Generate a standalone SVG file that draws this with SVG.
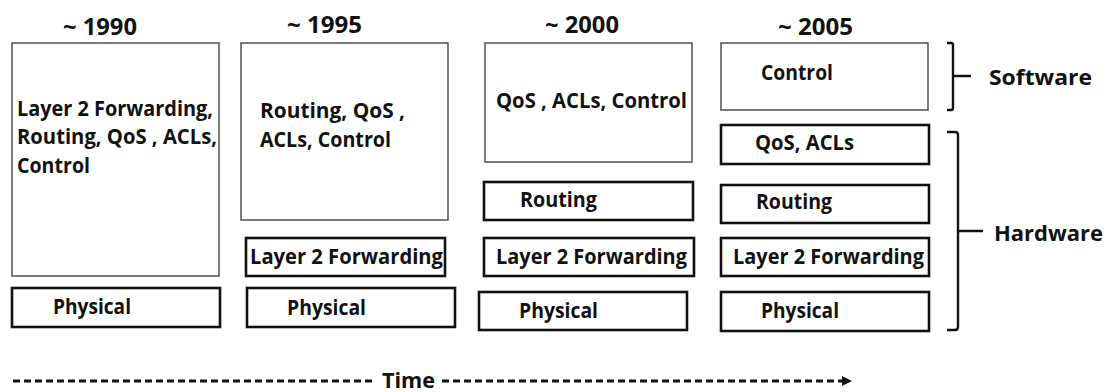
<svg xmlns="http://www.w3.org/2000/svg" width="1109" height="392" viewBox="0 0 1109 392">
  <style>
    text { font-family: "Open Sans", "Noto Sans", "Liberation Sans", sans-serif; font-weight: bold; fill: #111; }
    .year { font-size: 23px; }
    .lbl { font-size: 21px; }
    .soft { fill: #fff; stroke: #444; stroke-width: 1.4; }
    .hard { fill: #fff; stroke: #111; stroke-width: 2.6; }
    .brace { fill: none; stroke: #111; stroke-width: 2.4; stroke-linejoin: round; }
    .time { fill: none; stroke: #111; stroke-width: 3; stroke-dasharray: 7 4; }
  </style>

  <!-- ~1990: everything above the physical layer in one box -->
  <g id="era-1990">
    <text class="year" x="63" y="35" textLength="74" lengthAdjust="spacingAndGlyphs">~ 1990</text>
    <g id="n1990-combined">
      <rect class="soft" x="12" y="43" width="207" height="233"/>
      <text class="lbl" x="17" y="116" textLength="196" lengthAdjust="spacingAndGlyphs">Layer 2 Forwarding,</text>
      <text class="lbl" x="17" y="144" textLength="200" lengthAdjust="spacingAndGlyphs">Routing, QoS , ACLs,</text>
      <text class="lbl" x="17" y="173" textLength="73" lengthAdjust="spacingAndGlyphs">Control</text>
    </g>
    <g id="n1990-physical">
      <rect class="hard" x="12" y="288" width="208" height="39"/>
      <text class="lbl" x="53" y="314" textLength="78" lengthAdjust="spacingAndGlyphs">Physical</text>
    </g>
  </g>

  <!-- ~1995 -->
  <g id="era-1995">
    <text class="year" x="287" y="33" textLength="75" lengthAdjust="spacingAndGlyphs">~ 1995</text>
    <g id="n1995-combined">
      <rect class="soft" x="241" y="43" width="207" height="177"/>
      <text class="lbl" x="260" y="118" textLength="145" lengthAdjust="spacingAndGlyphs">Routing, QoS ,</text>
      <text class="lbl" x="260" y="147" textLength="131" lengthAdjust="spacingAndGlyphs">ACLs, Control</text>
    </g>
    <g id="n1995-l2">
      <rect class="hard" x="246" y="238" width="199" height="38"/>
      <text class="lbl" x="250" y="264" textLength="193" lengthAdjust="spacingAndGlyphs">Layer 2 Forwarding</text>
    </g>
    <g id="n1995-physical">
      <rect class="hard" x="247" y="288" width="208" height="39"/>
      <text class="lbl" x="287" y="315" textLength="79" lengthAdjust="spacingAndGlyphs">Physical</text>
    </g>
  </g>

  <!-- ~2000 -->
  <g id="era-2000">
    <text class="year" x="545" y="33" textLength="74" lengthAdjust="spacingAndGlyphs">~ 2000</text>
    <g id="n2000-combined">
      <rect class="soft" x="485" y="43" width="207" height="119"/>
      <text class="lbl" x="496" y="108" textLength="191" lengthAdjust="spacingAndGlyphs">QoS , ACLs, Control</text>
    </g>
    <g id="n2000-routing">
      <rect class="hard" x="484" y="182" width="209" height="38"/>
      <text class="lbl" x="520" y="207" textLength="77" lengthAdjust="spacingAndGlyphs">Routing</text>
    </g>
    <g id="n2000-l2">
      <rect class="hard" x="484" y="238" width="210" height="38"/>
      <text class="lbl" x="496" y="264" textLength="191" lengthAdjust="spacingAndGlyphs">Layer 2 Forwarding</text>
    </g>
    <g id="n2000-physical">
      <rect class="hard" x="479" y="292" width="208" height="38"/>
      <text class="lbl" x="519" y="318" textLength="79" lengthAdjust="spacingAndGlyphs">Physical</text>
    </g>
  </g>

  <!-- ~2005 -->
  <g id="era-2005">
    <text class="year" x="778" y="35" textLength="75" lengthAdjust="spacingAndGlyphs">~ 2005</text>
    <g id="n2005-control">
      <rect class="soft" x="721" y="43" width="207" height="67"/>
      <text class="lbl" x="761" y="80" textLength="72" lengthAdjust="spacingAndGlyphs">Control</text>
    </g>
    <g id="n2005-qos">
      <rect class="hard" x="721" y="125" width="208" height="39"/>
      <text class="lbl" x="755" y="150" textLength="99" lengthAdjust="spacingAndGlyphs">QoS, ACLs</text>
    </g>
    <g id="n2005-routing">
      <rect class="hard" x="721" y="185" width="208" height="38"/>
      <text class="lbl" x="756" y="209" textLength="76" lengthAdjust="spacingAndGlyphs">Routing</text>
    </g>
    <g id="n2005-l2">
      <rect class="hard" x="721" y="238" width="208" height="38"/>
      <text class="lbl" x="733" y="264" textLength="191" lengthAdjust="spacingAndGlyphs">Layer 2 Forwarding</text>
    </g>
    <g id="n2005-physical">
      <rect class="hard" x="721" y="292" width="208" height="39"/>
      <text class="lbl" x="761" y="318" textLength="78" lengthAdjust="spacingAndGlyphs">Physical</text>
    </g>
  </g>

  <!-- brackets grouping the 2005 stack -->
  <g id="connectors">
    <g id="software-brace">
      <path class="brace" d="M947,43 H951 Q953,43 953,45 V108 Q953,110 951,110 H947 M953,76 H971"/>
    </g>
    <g id="hardware-brace">
      <path class="brace" d="M947,132 H955 Q958,132 958,135 V327 Q958,330 955,330 H947 M958,231 H983"/>
    </g>
    <g id="time-axis">
      <line class="time" x1="13" y1="381" x2="372" y2="381"/>
      <line class="time" x1="442" y1="381" x2="842" y2="381"/>
      <path d="M842,376 L852,381 L842,386 Z" fill="#111"/>
    </g>
  </g>

  <g id="labels">
    <text class="lbl" x="989" y="85" textLength="103" lengthAdjust="spacingAndGlyphs">Software</text>
    <text class="lbl" x="994" y="241" textLength="109" lengthAdjust="spacingAndGlyphs">Hardware</text>
    <text class="lbl" x="382" y="388" textLength="53" lengthAdjust="spacingAndGlyphs">Time</text>
  </g>
</svg>
